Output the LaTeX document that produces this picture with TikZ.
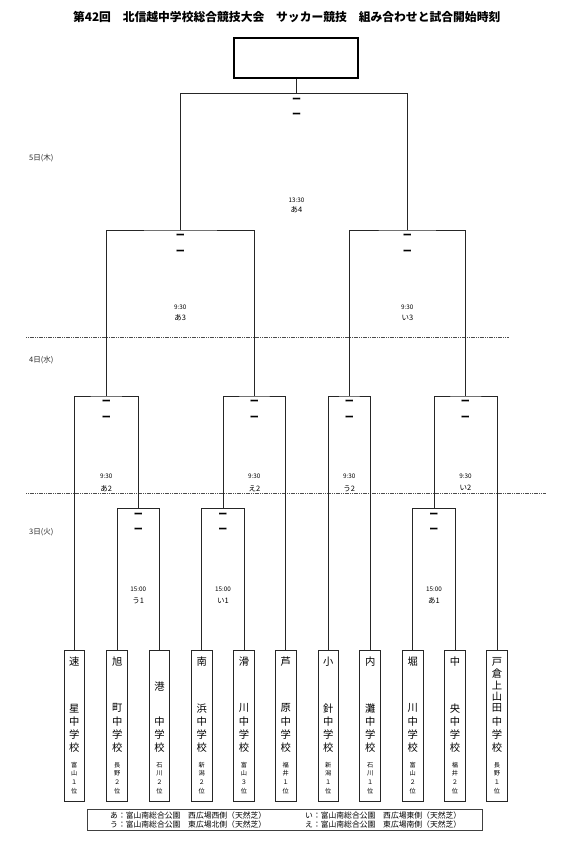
\documentclass[tikz,border=0pt]{standalone}
\usepackage{fontspec}
\setmainfont{Noto Sans CJK JP}
\usetikzlibrary{calc}
\newcommand\bigchars[3]{\foreach \c/\yy [count=\i] in {#3} {\node[nm] (#1-n\i) at (#2,\yy) {\c};}}
\newcommand\smallchars[4]{%
  \node[sm] (#1-p1) at (#2,765) {#3};
  \node[sm] (#1-p2) at (#2,773.6) {#4};
}
\newcommand\rankchars[3]{%
  \node[sm] (#1-p3) at (#2,782.2) {#3};
  \node[sm] (#1-p4) at (#2,790.8) {位};
}
\newcommand\mlab[7]{%
  \node[score] (#1-s1) at (#2,#3+6.8) {ー};
  \node[score] (#1-s2) at (#2,#3+22.3) {ー};
  \node[tm] (#1-t) at (#2,#3+#6) {#4};
  \node[fld] (#1-f) at (#2,#3+#7) {#5};
}
\begin{document}
\begin{tikzpicture}[x=1pt,y=-1pt,
  br/.style={line width=0.8pt, draw=black!85},
  team/.style={draw=black!85, line width=0.9pt, minimum width=20.6pt, minimum height=150.8pt, anchor=north, inner sep=0pt, yshift=-0.45pt},
  nm/.style={font=\fontsize{10.3}{10.3}\selectfont, inner sep=0pt, text=black},
  sm/.style={font=\fontsize{6.2}{6.2}\selectfont, inner sep=0pt, text=black},
  score/.style={font=\fontsize{9}{9}\selectfont\bfseries, inner sep=0pt},
  tm/.style={font=\fontsize{6.3}{6.3}\selectfont, inner sep=0pt, text=black},
  fld/.style={font=\fontsize{7.5}{7.5}\selectfont, inner sep=0pt, text=black},
  day/.style={font=\fontsize{7.5}{7.5}\selectfont, inner sep=0pt, anchor=west, text=black!85},
  sep/.style={line width=0.6pt, draw=black!70, dash pattern=on 1.2pt off 0.6pt},
  leg/.style={font=\fontsize{7.8}{7.8}\selectfont, inner sep=0pt, anchor=west, text=black},
]
\useasboundingbox (0,0) rectangle (567,847);

% title
\node[font=\fontsize{11.8}{11.8}\selectfont\bfseries, inner sep=0pt] (title) at (286.7,16.7)
  {第42回　北信越中学校総合競技大会　サッカー競技　組み合わせと試合開始時刻};

% champion box
\node[draw, line width=2.6pt, minimum width=124pt, minimum height=40pt, inner sep=0pt] (champ) at (296,58) {};

% day labels
\node[day] (d5) at (29,158.3) {5日(木)};
\node[day] (d4) at (29,360) {4日(水)};
\node[day] (d3) at (29,531.7) {3日(火)};

% separators
\coordinate (s1a) at (26,337.3); \coordinate (s1b) at (509,337.3);
\coordinate (s2a) at (26,493.3); \coordinate (s2b) at (546,493.3);
\draw[sep] (s1a) -- (s1b);
\draw[sep] (s2a) -- (s2b);

% team boxes
\node[team] (t1) at (74.3,649.3) {};
\node[team] (t2) at (117.2,649.3) {};
\node[team] (t3) at (159.4,649.3) {};
\node[team] (t4) at (201.8,649.3) {};
\node[team] (t5) at (244,649.3) {};
\node[team] (t6) at (285.8,649.3) {};
\node[team] (t7) at (328.3,649.3) {};
\node[team] (t8) at (370.2,649.3) {};
\node[team] (t9) at (412.8,649.3) {};
\node[team] (t10) at (455,649.3) {};
\node[team] (t11) at (497,649.3) {};

% team names
\bigchars{t1}{74.3}{速/661.7,星/708.3,中/721.3,学/734.3,校/747.3}
\bigchars{t2}{117.2}{旭/661.7,町/708.3,中/721.3,学/734.3,校/747.3}
\bigchars{t3}{159.4}{港/686.7,中/721.3,学/734.3,校/747.3}
\bigchars{t4}{201.8}{南/661.7,浜/708.3,中/721.3,学/734.3,校/747.3}
\bigchars{t5}{244}{滑/661.7,川/708.3,中/721.3,学/734.3,校/747.3}
\bigchars{t6}{285.8}{芦/661.7,原/708.3,中/721.3,学/734.3,校/747.3}
\bigchars{t7}{328.3}{小/661.7,針/708.3,中/721.3,学/734.3,校/747.3}
\bigchars{t8}{370.2}{内/661.7,灘/708.3,中/721.3,学/734.3,校/747.3}
\bigchars{t9}{412.8}{堀/661.7,川/708.3,中/721.3,学/734.3,校/747.3}
\bigchars{t10}{455}{中/661.7,央/708.3,中/721.3,学/734.3,校/747.3}
\bigchars{t11}{497}{戸/661.7,倉/673.35,上/685,山/696.65,田/708.3,中/721.3,学/734.3,校/747.3}

\smallchars{t1}{74.3}{富}{山}\rankchars{t1}{74.3}{１}
\smallchars{t2}{117.2}{長}{野}\rankchars{t2}{117.2}{２}
\smallchars{t3}{159.4}{石}{川}\rankchars{t3}{159.4}{２}
\smallchars{t4}{201.8}{新}{潟}\rankchars{t4}{201.8}{２}
\smallchars{t5}{244}{富}{山}\rankchars{t5}{244}{３}
\smallchars{t6}{285.8}{福}{井}\rankchars{t6}{285.8}{１}
\smallchars{t7}{328.3}{新}{潟}\rankchars{t7}{328.3}{１}
\smallchars{t8}{370.2}{石}{川}\rankchars{t8}{370.2}{１}
\smallchars{t9}{412.8}{富}{山}\rankchars{t9}{412.8}{２}
\smallchars{t10}{455}{福}{井}\rankchars{t10}{455}{２}
\smallchars{t11}{497}{長}{野}\rankchars{t11}{497}{１}

% round 1
\coordinate (u1) at (138.3,508.3);
\coordinate (i1) at (222.9,508.3);
\coordinate (a1) at (433.9,508.3);
\draw[br] (t2.north) |- (u1) -| (t3.north);
\draw[br] (t4.north) |- (i1) -| (t5.north);
\draw[br] (t9.north) |- (a1) -| (t10.north);
% round 2
\coordinate (a2) at (106.3,396);
\coordinate (e2) at (254.35,396);
\coordinate (u2) at (349.25,396);
\coordinate (i2) at (465.45,396);
\draw[br] (t1.north) |- (a2) -| (u1);
\draw[br] (i1) |- (e2) -| (t6.north);
\draw[br] (t7.north) |- (u2) -| (t8.north);
\draw[br] (a1) |- (i2) -| (t11.north);
% round 3
\coordinate (a3) at (180.3,230);
\coordinate (i3) at (407.35,230);
\draw[br] (a2) |- (a3) -| (e2);
\draw[br] (u2) |- (i3) -| (i2);
% final
\coordinate (a4) at (296,93.3);
\draw[br] (a3) |- (a4) -| (i3);
\draw[br] (a4) -- (champ.south);

% match labels
\mlab{mu1}{138.3}{508.3}{15:00}{う1}{80.7}{92.4}
\mlab{mi1}{222.9}{508.3}{15:00}{い1}{80.7}{92.4}
\mlab{ma1}{433.9}{508.3}{15:00}{あ1}{80.7}{92.4}
\mlab{ma2}{106.3}{396}{9:30}{あ2}{80}{92.3}
\mlab{me2}{254.35}{396}{9:30}{え2}{80}{92.3}
\mlab{mu2}{349.25}{396}{9:30}{う2}{80}{92.3}
\mlab{mi2}{465.45}{396}{9:30}{い2}{80}{92.3}
\mlab{ma3}{180.3}{230}{9:30}{あ3}{77.3}{87.7}
\mlab{mi3}{407.35}{230}{9:30}{い3}{77.3}{87.7}
\mlab{ma4}{296.5}{93.3}{13:30}{あ4}{106.7}{116.7}

% legend
\node[draw=black!75, line width=0.8pt, minimum width=395pt, minimum height=20.6pt, inner sep=0pt] (legend) at (285.3,820) {};
\node[leg] (l1) at (110,815.7) {あ：富山南総合公園　西広場西側（天然芝）};
\node[leg] (l2) at (305,815.7) {い：富山南総合公園　西広場東側（天然芝）};
\node[leg] (l3) at (110,824.3) {う：富山南総合公園　東広場北側（天然芝）};
\node[leg] (l4) at (305,824.3) {え：富山南総合公園　東広場南側（天然芝）};
\end{tikzpicture}
\end{document}
